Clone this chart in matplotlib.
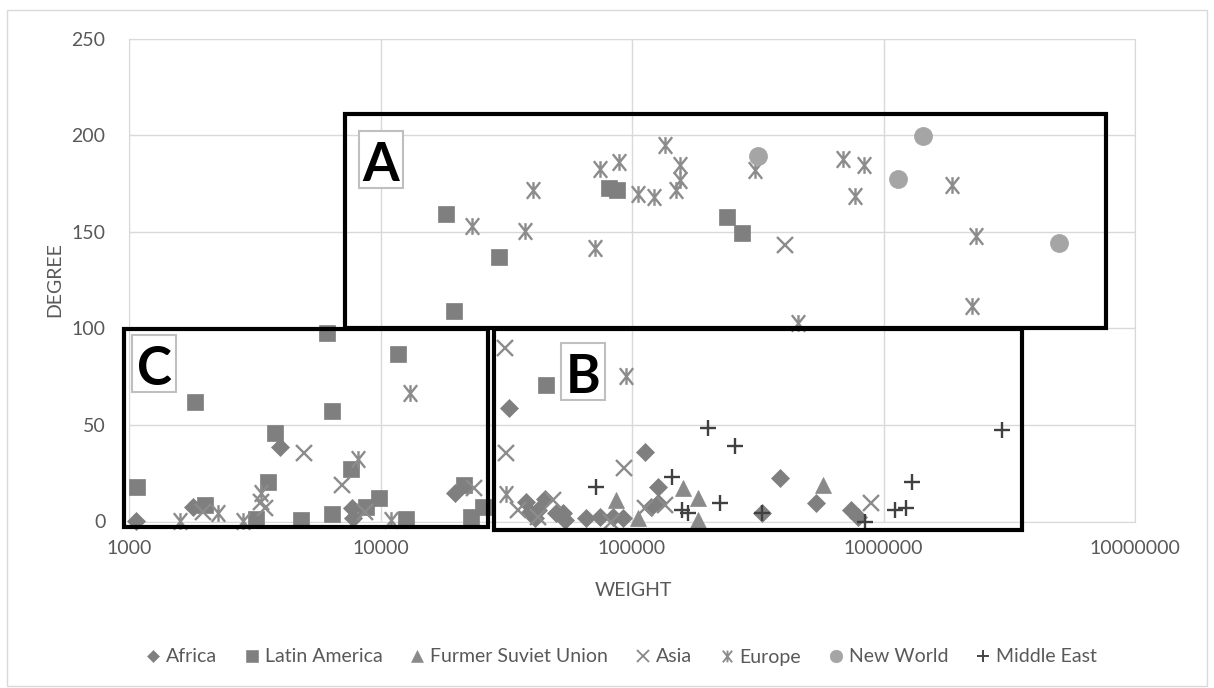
import matplotlib
matplotlib.use("Agg")
import matplotlib.pyplot as plt
import matplotlib.transforms as mtransforms
from matplotlib.patches import Rectangle
from matplotlib.path import Path
from matplotlib.lines import Line2D

plt.rcParams['font.family'] = ['Lato', 'DejaVu Sans']

# weight / degree per region group
africa_w = [1068, 1794, 3968, 7727, 7762, 19710, 32410, 38020, 44950, 39170, 42270, 41020,
            50000, 53150, 53950, 65850, 74380, 84020, 92040, 112300, 119400, 126900, 126900,
            330200, 386800, 537900, 746000, 792500]
africa_d = [0.4, 7.7, 38.8, 6.8, 1.7, 14.6, 58.7, 10.3, 11.7, 5.1, 6.0, 1.7,
            4.2, 4.2, 0.8, 1.7, 2.5, 2.5, 1.7, 35.9, 7.7, 18.0, 9.4,
            4.2, 22.4, 9.4, 6.0, 2.5]

latin_w = [6119, 11770, 1822, 6405, 3814, 7652, 1078, 3565, 1997, 3206, 4842, 6429,
           8780, 9854, 12590, 21400, 22970, 25540, 45650, 18160, 29580, 19590,
           81000, 87150, 238800, 274800]
latin_d = [97.8, 86.8, 61.6, 57.3, 45.7, 27.0, 17.7, 20.6, 8.5, 1.1, 0.8, 3.9,
           7.7, 12.0, 1.1, 18.9, 2.5, 7.7, 70.4, 159.3, 136.7, 108.7,
           172.6, 171.4, 157.6, 149.3]

fsu_w = [86700, 105700, 159600, 183000, 183000, 575000]
fsu_d = [11.1, 1.7, 17.2, 12.0, 0.8, 18.9]

asia_w = [31160, 31650, 92680, 4944, 7047, 3459, 3357, 1966, 8690, 23460, 48510,
          35200, 42300, 112300, 134900, 405000, 895000, 82800]
asia_d = [89.7, 35.6, 27.9, 35.3, 18.9, 6.8, 10.3, 5.1, 5.1, 17.2, 11.1,
          6.0, 2.5, 6.8, 8.5, 142.9, 9.7, 0.0]

europe_w = [13060, 3357, 2256, 1588, 2835, 11040, 8128, 31650, 95000, 23100, 40380,
            37430, 74380, 88800, 71050, 105700, 122000, 134900, 154800, 154800, 149300,
            307600, 457100, 687100, 837100, 768800, 1864000, 2323000, 2251000]
europe_d = [66.7, 14.6, 4.6, 0.4, 0.4, 0.8, 32.2, 14.1, 75.4, 153.1, 171.4,
            150.2, 182.6, 185.9, 141.6, 169.7, 167.8, 194.7, 184.7, 176.9, 171.4,
            182.1, 102.7, 187.7, 184.7, 168.3, 174.4, 147.6, 111.3]

newworld_w = [317100, 1430000, 1137000, 4995000]
newworld_d = [189.0, 199.4, 177.5, 144.1]

mideast_w = [2947000, 1293000, 1109000, 1234000, 842500, 201400, 256200, 144200,
             71720, 223300, 158700, 167000, 330200]
mideast_d = [47.4, 20.6, 6.0, 6.8, 0.0, 48.6, 39.1, 23.2,
             18.0, 9.4, 6.0, 4.6, 4.2]

x_ticks = [1000, 10000, 100000, 1000000, 10000000]
x_tick_labels = ['1000', '10000', '100000', '1000000', '10000000']
y_ticks = [0, 50, 100, 150, 200, 250]

# region frames: (x0, x1, y0, y1)
regions = {
    'A': (7196, 7.64e6, 100.1, 211.1),
    'B': (28180, 3.54e6, -4.4, 99.6),
    'C': (951, 26740, -2.7, 99.6),
}
# centre of each letter box
label_pos = {'A': (10040, 187.5), 'B': (63840, 77.8), 'C': (1260, 81.6)}

# asterisk marker like excel's "star"
star = Path([(-0.4, -0.5), (0.4, 0.5), (-0.4, 0.5), (0.4, -0.5), (0, -0.5), (0, 0.5)],
            [Path.MOVETO, Path.LINETO, Path.MOVETO, Path.LINETO, Path.MOVETO, Path.LINETO])

series = [
    ('Africa', africa_w, africa_d, dict(marker='D', ms=9, color='#7f7f7f')),
    ('Latin America', latin_w, latin_d, dict(marker='s', ms=12, color='#7f7f7f')),
    ('Furmer Suviet Union', fsu_w, fsu_d, dict(marker='^', ms=11.5, color='#8a8a8a')),
    ('Asia', asia_w, asia_d, dict(marker='x', ms=11.5, mew=1.7, color='#8c8c8c')),
    ('Europe', europe_w, europe_d, dict(marker=star, ms=12, mew=1.7, color='#8c8c8c')),
    ('New World', newworld_w, newworld_d, dict(marker='o', ms=13, color='#a5a5a5')),
    ('Middle East', mideast_w, mideast_d, dict(marker='+', ms=11.5, mew=1.7, color='#404040')),
]

fig = plt.figure(figsize=(12.14, 6.88), dpi=100)
ax = fig.add_axes([129 / 1214, 1 - 521.5 / 688, 1006 / 1214, 483 / 688])

handles = []
for name, xs, ys, st in series:
    ax.plot(xs, ys, linestyle='none', markeredgecolor=st['color'], markerfacecolor=st['color'],
            marker=st['marker'], ms=st['ms'], mew=st.get('mew', 0.5), clip_on=False, zorder=3)
    handles.append(Line2D([], [], linestyle='none', marker=st['marker'], ms=st['ms'] * 0.7,
                          mew=st.get('mew', 0.5) * 0.8, color=st['color'], label=name))

ax.set_xscale('log')
ax.set_xlim(1000, 1e7)
ax.set_ylim(0, 250)
ax.set_xticks(x_ticks)
ax.set_xticklabels(x_tick_labels)
ax.minorticks_off()
ax.set_yticks(y_ticks)
ax.grid(True, color='#d9d9d9', lw=1)
ax.set_axisbelow(True)
for sp in ax.spines.values():
    sp.set_color('#d9d9d9')
ax.tick_params(length=0, labelsize=14, labelcolor='#595959')
ax.tick_params(axis='x', pad=13)
ax.tick_params(axis='y', pad=17)

# region frames
for key, (x0, x1, y0, y1) in regions.items():
    ax.add_patch(Rectangle((x0, y0), x1 - x0, y1 - y0, fill=False, ec='black', lw=3,
                           joinstyle='miter', clip_on=False, zorder=5))

# letter boxes (size in inches, anchored on a data point)
bw, bh = 44 / 100, 57 / 100
for key, (cx, cy) in label_pos.items():
    tr = fig.dpi_scale_trans + mtransforms.ScaledTranslation(cx, cy, ax.transData)
    ax.add_patch(Rectangle((-bw / 2, -bh / 2), bw, bh, transform=tr, fc='white',
                           ec='#bfbfbf', lw=1.5, clip_on=False, zorder=6))
    ax.text(0, -bh / 2 + 0.07, key, transform=tr, ha='center', va='baseline',
            fontsize=38, fontweight='bold', color='black', zorder=7)

fig.text(633 / 1214, 1 - 591 / 688, 'WEIGHT', ha='center', va='center', fontsize=14, color='#595959')
fig.text(55 / 1214, 1 - 280 / 688, 'DEGREE', ha='center', va='center', rotation=90,
         fontsize=14, color='#595959')

fig.legend(handles=handles, loc='center', bbox_to_anchor=(621 / 1214, 1 - 657 / 688), ncol=7,
           frameon=False, fontsize=14, labelcolor='#595959', handlelength=0.8,
           handletextpad=0.25, columnspacing=1.4)

# outer chart border
fig.patches.append(Rectangle((7 / 1214, 2 / 688), 1200 / 1214, 676 / 688, transform=fig.transFigure,
                             fill=False, ec='#d9d9d9', lw=1))

fig.savefig('out.png', dpi=100)
